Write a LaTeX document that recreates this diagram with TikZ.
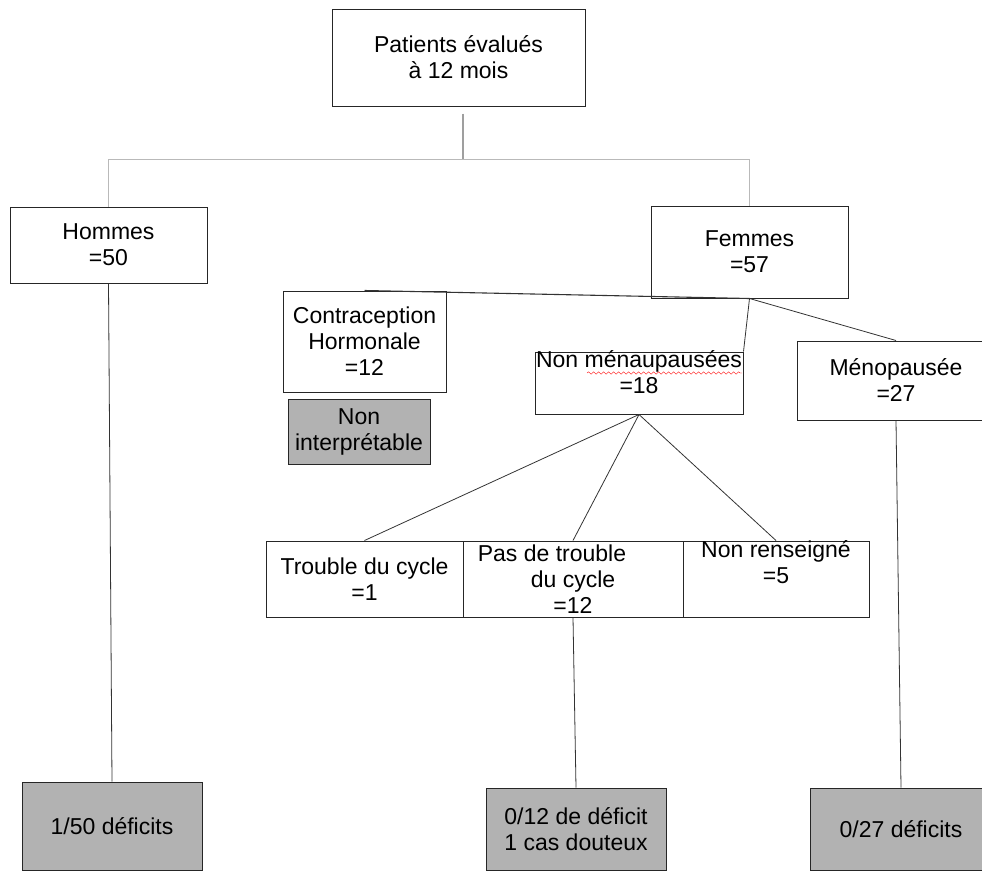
\documentclass[tikz,border=0pt]{standalone}
\usepackage{fontspec}
\setmainfont{Liberation Sans}
\usetikzlibrary{positioning, decorations.pathmorphing}

\begin{document}
\begin{tikzpicture}[x=1pt, y=-1pt,
    box/.style={draw=black!85, line width=1pt, fill=white, inner sep=0pt, align=center,
      font=\fontsize{23}{26}\selectfont},
    greybox/.style={box, fill=black!30},
    txt/.style={inner sep=0pt, align=center, font=\fontsize{23}{26}\selectfont},
    link/.style={black!80, line width=0.8pt},
    trunk/.style={gray!55, line width=1.2pt}]
  \useasboundingbox (0,0) rectangle (982,871);
  \node[box, minimum width=253, minimum height=97] (patients) at (458.5,57.5) {Patients évalués\\à 12 mois};
  \node[box, minimum width=197, minimum height=76] (hommes) at (108.5,245) {Hommes\\=50};
  \node[box, minimum width=197, minimum height=92] (femmes) at (749.5,252) {Femmes\\=57};
  \node[box, minimum width=163, minimum height=101] (contra) at (364.5,341.5) {Contraception\\Hormonale\\=12};
  \node[greybox, minimum width=142, minimum height=65] (interp) at (359,431.5) {Non\\interprétable};
  \node[box, minimum width=208, minimum height=62] (nonmeno) at (639,383) {};
  \node[txt] (nonmenotxt) at (639,372.5) {Non ménaupausées\\=18};
  \draw[red, decorate, decoration={snake, segment length=5pt, amplitude=1.2pt}] (587,373) -- (742,373);
  \node[box, minimum width=198, minimum height=79] (meno) at (896,380.5) {Ménopausée\\=27};
  \node[box, minimum width=197, minimum height=76] (trouble) at (364.5,579) {Trouble du cycle\\=1};
  \node[box, minimum width=220, minimum height=76] (pas) at (573,579) {Pas de trouble\hspace*{42pt}\\du cycle\\=12};
  \node[box, minimum width=186, minimum height=76] (renseigne) at (776,579) {};
  \node[txt] (renseignetxt) at (776,562.5) {Non renseigné\\=5};
  \node[greybox, minimum width=180, minimum height=88] (def1) at (112,826) {1/50 déficits};
  \node[greybox, minimum width=180, minimum height=82] (def2) at (576,829) {0/12 de déficit\\1 cas douteux};
  \node[greybox, minimum width=182, minimum height=82] (def3) at (901,829) {0/27 déficits};

  \draw[trunk, gray!75] ([xshift=4.5pt, yshift=-7pt]patients.south) -- ++(0,46) coordinate (split);
  \draw[trunk] (hommes.north) |- (split) -| (femmes.north);
  \draw[link, line width=1.1pt] (femmes.south) -- (contra.north);
  \draw[link] (femmes.south) -- (nonmeno.north east);
  \draw[link] (femmes.south) -- (meno.north);
  \draw[link] (nonmeno.south) -- (trouble.north);
  \draw[link] (nonmeno.south) -- (pas.north);
  \draw[link] (nonmeno.south) -- (renseigne.north);
  \draw[link] (hommes.south) -- (def1.north);
  \draw[link] (pas.south) -- (def2.north);
  \draw[link] (meno.south) -- (def3.north);
\end{tikzpicture}
\end{document}
